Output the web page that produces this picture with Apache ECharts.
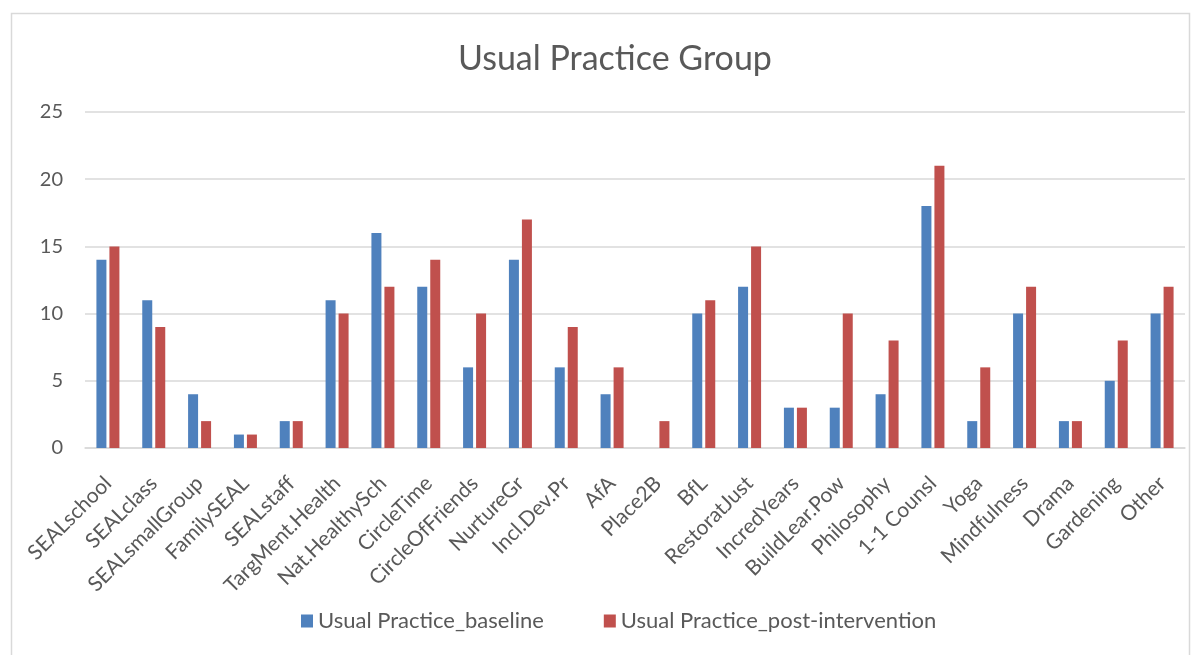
<!DOCTYPE html>
<html>
<head>
<meta charset="utf-8">
<script src="https://cdn.jsdelivr.net/npm/echarts@6/dist/echarts.min.js"></script>
<style>
  html, body { margin: 0; padding: 0; background: #fff; }
  #chart { width: 1201px; height: 655px; }
</style>
</head>
<body>
<div id="chart"></div>
<script>
const categories = [
  'SEALschool', 'SEALclass', 'SEALsmallGroup', 'FamilySEAL', 'SEALstaff',
  'TargMent.Health', 'Nat.HealthySch', 'CircleTime', 'CircleOfFriends', 'NurtureGr',
  'Incl.Dev.Pr', 'AfA', 'Place2B', 'BfL', 'RestoratJust', 'IncredYears',
  'BuildLear.Pow', 'Philosophy', '1-1 Counsl', 'Yoga', 'Mindfulness', 'Drama',
  'Gardening', 'Other'
];
const baseline = [14, 11, 4, 1, 2, 11, 16, 12, 6, 14, 6, 4, 0, 10, 12, 3, 3, 4, 18, 2, 10, 2, 5, 10];
const postIntervention = [15, 9, 2, 1, 2, 10, 12, 14, 10, 17, 9, 6, 2, 11, 15, 3, 10, 8, 21, 6, 12, 2, 8, 12];
const seriesNames = ['Usual Practice_baseline', 'Usual Practice_post-intervention'];

const FONT = 'Lato, "Open Sans", sans-serif';
const TEXT = '#595959';
const GRID = '#d9d9d9';

const chart = echarts.init(document.getElementById('chart'), null, { renderer: 'canvas' });
chart.setOption({
  animation: false,
  backgroundColor: '#ffffff',
  graphic: [{
    type: 'rect',
    shape: { x: 11.5, y: 13.5, width: 1178, height: 660 },
    style: { fill: 'none', stroke: GRID, lineWidth: 1.5 },
    silent: true
  }],
  title: {
    text: 'Usual Practice Group',
    left: 453,
    top: 37,
    textStyle: { fontFamily: FONT, fontSize: 34, fontWeight: 'normal', color: TEXT }
  },
  legend: {
    bottom: 18,
    left: 296,
    itemWidth: 12,
    itemHeight: 13,
    itemGap: 60,
    icon: 'rect',
    textStyle: { fontFamily: FONT, fontSize: 22, color: TEXT },
    data: seriesNames
  },
  grid: { left: 85, right: 16, top: 112, bottom: 207, containLabel: false },
  xAxis: {
    type: 'category',
    data: categories,
    axisLine: { show: true, lineStyle: { color: GRID, width: 1.5 } },
    axisTick: { show: false },
    axisLabel: {
      interval: 0,
      rotate: 45,
      margin: 32,
      fontFamily: FONT,
      fontSize: 21,
      color: TEXT
    }
  },
  yAxis: {
    type: 'value',
    min: 0,
    max: 25,
    interval: 5,
    axisLine: { show: false },
    axisTick: { show: false },
    axisLabel: { fontFamily: FONT, fontSize: 20, color: TEXT, margin: 22 },
    splitLine: { lineStyle: { color: GRID, width: 1.5 } }
  },
  series: [
    {
      name: seriesNames[0],
      type: 'bar',
      data: baseline,
      barWidth: 10,
      barGap: '30%',
      itemStyle: { color: '#4F81BD' }
    },
    {
      name: seriesNames[1],
      type: 'bar',
      data: postIntervention,
      barWidth: 10,
      barGap: '30%',
      itemStyle: { color: '#C0504D' }
    }
  ]
});
</script>
</body>
</html>
